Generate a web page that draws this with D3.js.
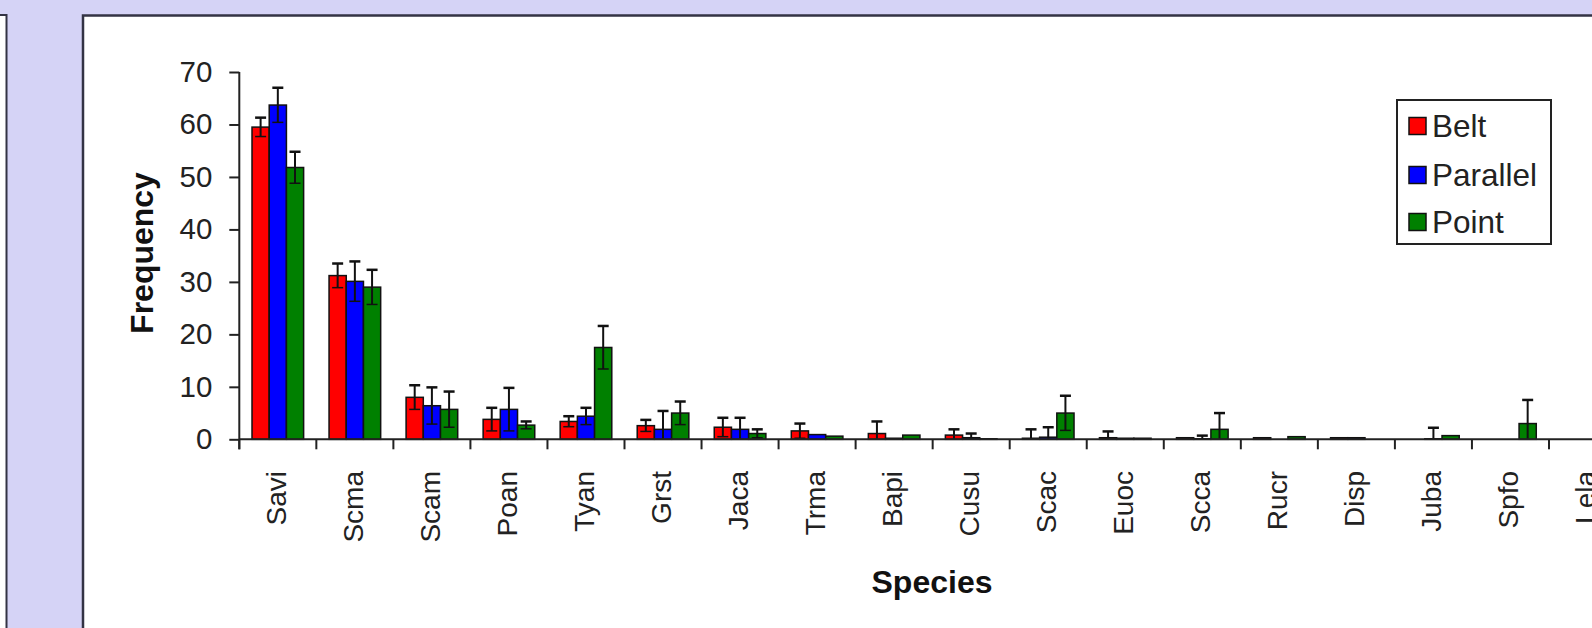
<!DOCTYPE html>
<html>
<head>
<meta charset="utf-8">
<script src="https://cdn.jsdelivr.net/npm/d3@7"></script>
<style>
html,body{margin:0;padding:0;background:#d5d3f6;}
svg{display:block;}
text{font-family:"Liberation Sans",Arial,sans-serif;}
</style>
</head>
<body>
<svg id="chart" width="1592" height="628"></svg>
<script>
const categories = ["Savi","Scma","Scam","Poan","Tyan","Grst","Jaca","Trma","Bapi","Cusu","Scac","Euoc","Scca","Rucr","Disp","Juba","Spfo","Lela"];
const seriesNames = ["Belt","Parallel","Point"];
const seriesColors = ["#ff0000","#0000ff","#008000"];
const belt        = [59.5, 31.2, 8.0, 3.8, 3.4, 2.6, 2.3, 1.6, 1.1, 0.8, 0.2, 0.3, 0.3, 0.3, 0.3, 0.0, 0.0, 0.0];
const beltErr     = [1.8, 2.3, 2.3, 2.2, 1.0, 1.1, 1.8, 1.4, 2.3, 1.1, 1.7, 1.2, 0, 0, 0, 0, 0, 0];
const parallel    = [63.7, 30.1, 6.4, 5.7, 4.4, 1.9, 1.9, 0.9, 0.2, 0.3, 0.4, 0.2, 0.1, 0.0, 0.3, 0.1, 0.0, 0.0];
const parallelErr = [3.3, 3.8, 3.5, 4.1, 1.6, 3.5, 2.2, 0, 0, 0.8, 1.9, 0, 0.6, 0, 0, 2.1, 0, 0];
const point       = [51.8, 29.0, 5.7, 2.7, 17.5, 5.0, 1.1, 0.6, 0.8, 0.1, 5.0, 0.2, 1.9, 0.5, 0.0, 0.7, 3.0, 0.0];
const pointErr    = [3.0, 3.3, 3.4, 0.7, 4.1, 2.2, 0.8, 0, 0, 0, 3.3, 0, 3.1, 0, 0, 0, 4.5, 0];
const yTicks = [0,10,20,30,40,50,60,70];

const values = [belt, parallel, point];
const errors = [beltErr, parallelErr, pointErr];

const svg = d3.select("#chart");
const axisColor = "#222";

// left cropped panel
svg.append("rect").attr("x",-20).attr("y",15).attr("width",26.5).attr("height",640)
  .attr("fill","#fff").attr("stroke","#333344").attr("stroke-width",2);
// main chart panel (cropped at right and bottom)
svg.append("rect").attr("x",83).attr("y",15.5).attr("width",1560).attr("height",640)
  .attr("fill","#fff").attr("stroke","#333344").attr("stroke-width",2.5);

const x0Start = 239.3, step = 77.04;
const x = d3.scaleBand().domain(categories)
  .range([x0Start, x0Start + step*categories.length])
  .paddingInner(0.33).paddingOuter(0.165);
const xs = d3.scaleBand().domain(seriesNames).range([0, x.bandwidth()]);
const y = d3.scaleLinear().domain([0,70]).range([439.3, 72]);

// bars
const g = svg.append("g");
categories.forEach((c,i)=>{
  seriesNames.forEach((s,j)=>{
    const v = values[j][i];
    const bx = x(c) + xs(s);
    g.append("rect")
      .attr("x", bx).attr("y", y(v))
      .attr("width", xs.bandwidth()).attr("height", y(0)-y(v))
      .attr("fill", seriesColors[j]).attr("stroke","#111").attr("stroke-width",1.5);
  });
});
// error bars
categories.forEach((c,i)=>{
  seriesNames.forEach((s,j)=>{
    const v = values[j][i], e = errors[j][i];
    if (!e) return;
    const cx = x(c) + xs(s) + xs.bandwidth()/2;
    const hi = v + e, lo = Math.max(0, v - e);
    g.append("line").attr("x1",cx).attr("x2",cx).attr("y1",y(hi)).attr("y2",y(lo))
      .attr("stroke","#111").attr("stroke-width",2);
    g.append("line").attr("x1",cx-5.5).attr("x2",cx+5.5).attr("y1",y(hi)).attr("y2",y(hi))
      .attr("stroke","#111").attr("stroke-width",2.5);
    if (v - e > 0) {
      g.append("line").attr("x1",cx-5.5).attr("x2",cx+5.5).attr("y1",y(lo)).attr("y2",y(lo))
        .attr("stroke","#111").attr("stroke-width",1.5);
    }
  });
});

// y axis
const yAxis = d3.axisLeft(y).tickValues(yTicks).tickSize(10).tickPadding(17).tickSizeOuter(0);
const yg = svg.append("g").attr("transform",`translate(${x0Start},0)`).call(yAxis);
yg.select(".domain").attr("stroke",axisColor).attr("stroke-width",2).attr("d",`M0,${y(70)}V${y(0)+10}`);
yg.selectAll(".tick line").attr("stroke",axisColor).attr("stroke-width",2);
yg.selectAll(".tick text").attr("font-size",29.5).attr("fill","#222")
  .attr("font-family","'Liberation Sans',Arial,sans-serif");

// x axis: ticks at category boundaries
const boundaries = d3.range(categories.length+1).map(k=>x0Start + k*step);
const xg = svg.append("g");
xg.append("line").attr("x1",x0Start).attr("x2",1600).attr("y1",y(0)).attr("y2",y(0))
  .attr("stroke",axisColor).attr("stroke-width",2);
xg.selectAll("line.tk").data(boundaries).enter().append("line").attr("class","tk")
  .attr("x1",d=>d).attr("x2",d=>d).attr("y1",y(0)).attr("y2",y(0)+10)
  .attr("stroke",axisColor).attr("stroke-width",2);
xg.selectAll("text.lbl").data(categories).enter().append("text").attr("class","lbl")
  .attr("transform",d=>`translate(${x(d)+x.bandwidth()/2-2},471) rotate(-90)`)
  .attr("text-anchor","end").attr("dy","0.35em")
  .attr("font-size",28).attr("fill","#222").text(d=>d);

// axis titles
svg.append("text").attr("transform","translate(142,253) rotate(-90)")
  .attr("text-anchor","middle").attr("dy","0.35em")
  .attr("font-size",32).attr("font-weight","bold").attr("fill","#111").text("Frequency");
svg.append("text").attr("x",932).attr("y",582)
  .attr("text-anchor","middle").attr("dy","0.35em")
  .attr("font-size",32).attr("font-weight","bold").attr("fill","#111").text("Species");

// legend
const lg = svg.append("g");
lg.append("rect").attr("x",1397).attr("y",100).attr("width",154).attr("height",144)
  .attr("fill","#fff").attr("stroke","#222").attr("stroke-width",2);
const rowsY = [126,175,222];
seriesNames.forEach((s,j)=>{
  lg.append("rect").attr("x",1409).attr("y",rowsY[j]-8.5).attr("width",17).attr("height",17)
    .attr("fill",seriesColors[j]).attr("stroke","#111").attr("stroke-width",1.5);
  lg.append("text").attr("x",1432).attr("y",rowsY[j]).attr("dy","0.35em")
    .attr("font-size",31.5).attr("fill","#222").text(s);
});
</script>
</body>
</html>
